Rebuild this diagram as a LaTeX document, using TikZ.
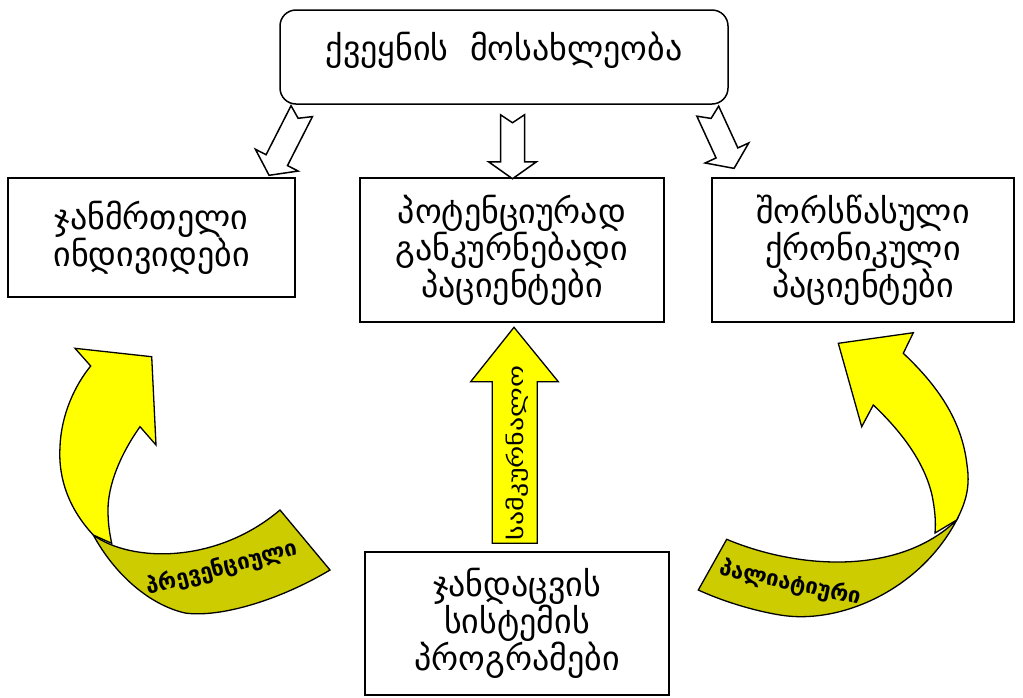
\documentclass[tikz,border=0pt]{standalone}
\usepackage{fontspec}
\setmainfont{DejaVu Sans}
\usetikzlibrary{calc}
\definecolor{arrowyellow}{RGB}{255,255,0}
\definecolor{ribbonolive}{RGB}{204,204,0}
\tikzset{
  box/.style={draw=black, line width=1.5pt, fill=white, align=center, inner sep=0pt,
              font=\fontsize{34}{37}\selectfont},
  hollow/.style={draw=black, line width=1.5pt, fill=white, line join=miter},
  yfill/.style={draw=black, line width=1.3pt, fill=arrowyellow, line join=miter},
  ofill/.style={draw=black, line width=1.3pt, fill=ribbonolive, line join=miter},
  ribbonlabel/.style={font=\fontsize{22}{22}\bfseries\selectfont, inner sep=0pt},
}
\newcommand\hollowarrow[3]{%
  \begin{scope}[shift={#1}, rotate=#2]
    \draw[hollow] (0,-12) -- (8,0) -- (0,12) -- (#3-17,12) -- (#3-17,24) -- (#3,0)
      -- (#3-17,-24) -- (#3-17,-12) -- cycle;
  \end{scope}}
\begin{document}
\begin{tikzpicture}[x=1pt, y=-1pt]
\useasboundingbox (0,0) rectangle (1023,697);

% boxes
\node[box, rounded corners=16pt, minimum width=448, text height=50pt, text depth=44pt]
  (pop) at (504,57) {ქვეყნის\ \ მოსახლეობა};
\node[box, minimum width=287, minimum height=119] (healthy) at (151.5,237.5)
  {ჯანმრთელი\\ინდივიდები};
\node[box, minimum width=304, minimum height=144] (curable) at (512,250)
  {პოტენციურად\\განკურნებადი\\პაციენტები};
\node[box, minimum width=302, minimum height=144] (chronic) at (863,250)
  {შორსწასული\\ქრონიკული\\პაციენტები};
\node[box, minimum width=304, minimum height=143] (programs) at (517,623.5)
  {ჯანდაცვის\\სისტემის\\პროგრამები};

% hollow block arrows from the population box
\hollowarrow{($(pop.south west)+(22.5,6.4)$)}{-117}{72}
\hollowarrow{($(pop.south)+(8.5,10)$)}{-90}{64}
\hollowarrow{($(pop.south east)+(-21,6.4)$)}{-65.3}{63}

% central straight yellow arrow
\draw[yfill] (492.3,543.3) -- (492.3,381.7) -- (470.7,381.7) -- (514,327.3)
  -- (558.3,381.7) -- (537.3,381.7) -- (537.3,543.3) -- cycle;
\node[rotate=90, font=\fontsize{21}{21}\selectfont, inner sep=0pt] (cure) at (517,453)
  {\scalebox{1.33}[1]{სამკურნალო}};

% left curved arrow (preventive)
\draw[ofill] (93.3,535) .. controls (130,562) and (215,565) .. (280,510) -- (330,570)
  .. controls (280,600) and (220,618) .. (185,613)
  .. controls (150,605) and (115,575) .. (93.3,535) -- cycle;
\draw[yfill] (93.3,535) .. controls (70,510) and (58,480) .. (60,447)
  .. controls (61,415) and (75,385) .. (90.7,366) -- (75,348.3) -- (151.7,356.7)
  -- (156,445) -- (140,426.7) .. controls (120,455) and (108,485) .. (108,510)
  .. controls (108,525) and (110,535) .. (111.7,543.3) -- cycle;
\node[ribbonlabel, rotate=15] (prev) at (222,568) {პრევენციული};

% right curved arrow (palliative)
\draw[ofill] (726.7,539.3) .. controls (800,570) and (900,575) .. (956.7,520)
  .. controls (920,590) and (840,625) .. (780,615)
  .. controls (750,610) and (720,600) .. (698.3,590) -- cycle;
\draw[yfill] (956.7,520) .. controls (967,500) and (970,485) .. (967,465)
  .. controls (962,420) and (937,385) .. (903.3,353.3) -- (913.3,332.7) -- (838.3,343.3)
  -- (861.7,426.7) -- (873.3,405) .. controls (905,435) and (925,465) .. (932,495)
  .. controls (935,510) and (936,522) .. (935,533) -- cycle;
\node[ribbonlabel, rotate=-12] (pall) at (790,583) {პალიატიური};
\end{tikzpicture}
\end{document}
